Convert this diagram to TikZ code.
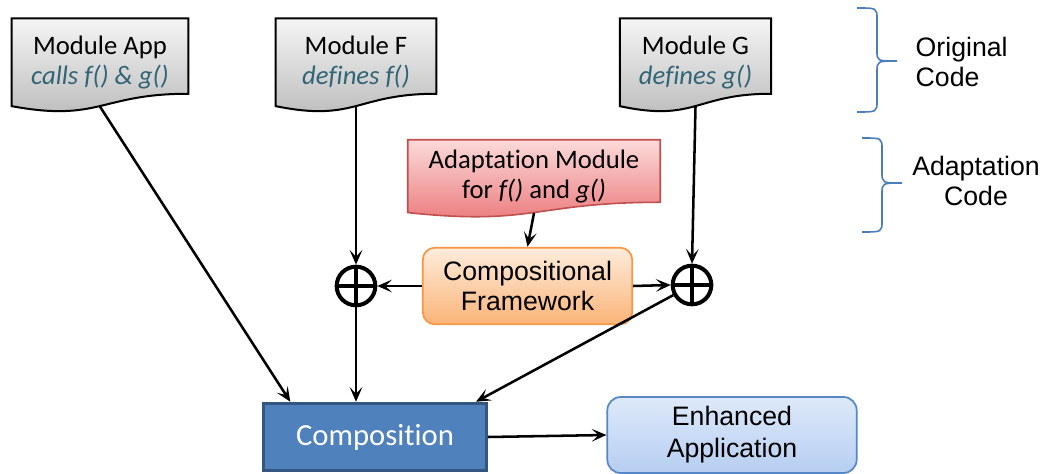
\documentclass[tikz,border=0pt]{standalone}
\usepackage{fontspec}
\setmainfont{Liberation Sans}
\newfontfamily\calibri[Ligatures=NoCommon]{Carlito}
\usepackage{tikz}
\usetikzlibrary{arrows.meta,positioning,calc,backgrounds}

\definecolor{codeteal}{RGB}{49,100,118}
\definecolor{modtop}{RGB}{245,245,245}
\definecolor{modbot}{RGB}{185,185,185}
\definecolor{adtop}{RGB}{252,218,218}
\definecolor{adbot}{RGB}{234,118,120}
\definecolor{adline}{RGB}{192,80,77}
\definecolor{cftop}{RGB}{254,236,220}
\definecolor{cfbot}{RGB}{250,180,120}
\definecolor{cfline}{RGB}{247,150,70}
\definecolor{compfill}{RGB}{79,129,189}
\definecolor{compline}{RGB}{52,86,128}
\definecolor{enhtop}{RGB}{222,233,250}
\definecolor{enhbot}{RGB}{182,206,242}
\definecolor{enhline}{RGB}{84,134,200}
\definecolor{bracecol}{RGB}{74,126,187}

% outline of a document shape (wavy bottom) round node #1, full height #3 (px)
\newcommand{\docoutline}[3]{%
  \path[#2] (#1.north west) -- (#1.north east)
    -- ($(#1.north east)+(0,0.802*#3)$)
    .. controls ($(#1.north)+(0,0.802*#3)$) and ($(#1.north)+(0,1.107*#3)$)
    .. ($(#1.north west)+(0,0.934*#3)$) -- cycle;}

\tikzset{
  link/.style={line width=1.9pt, -{Stealth[length=11pt,width=9.5pt,inset=5pt]}},
  modtext/.style={inner sep=0pt, align=center, font=\calibri\fontsize{20}{22.5}\selectfont},
  plus/.style={circle, draw, line width=3pt, minimum size=29pt, inner sep=0pt,
    path picture={\draw[line width=3pt]
      (path picture bounding box.north) -- (path picture bounding box.south)
      (path picture bounding box.west) -- (path picture bounding box.east);}},
  bigtext/.style={align=center, font=\fontsize{20}{22.5}\selectfont},
  bracepath/.style={draw=bracecol, line width=1.2pt},
}

\begin{document}
\begin{tikzpicture}[x=0.75pt, y=-0.75pt]
  \useasboundingbox (0,0) rectangle (1041,474);
  % Original code modules
  \node[modtext, minimum width=132pt, minimum height=65.8pt] (app) at (100,62.5)
    {Module App\\\textcolor{codeteal}{\itshape calls f() \& g()}};
  \node[modtext, minimum width=120pt, minimum height=65.8pt] (modf) at (356,62.5)
    {Module F\\\textcolor{codeteal}{\itshape defines f()}};
  \node[modtext, minimum width=113pt, minimum height=65.8pt] (modg) at (695.5,62.5)
    {Module G\\\textcolor{codeteal}{\itshape defines g()}};
  % Adaptation module
  \node[modtext, minimum width=189pt, minimum height=54.6pt] (adapt) at (534,176.4)
    {Adaptation Module\\for \textit{f()} and \textit{g()}};
  \begin{scope}[on background layer]
    \docoutline{app}{draw, line width=1.5pt, top color=modtop, bottom color=modbot}{94}
    \docoutline{modf}{draw, line width=1.5pt, top color=modtop, bottom color=modbot}{94}
    \docoutline{modg}{draw, line width=1.5pt, top color=modtop, bottom color=modbot}{94}
    \docoutline{adapt}{draw=adline, line width=1.2pt, top color=adtop, bottom color=adbot}{78}
  \end{scope}
  % Framework and weaving points
  \node[bigtext, draw=cfline, line width=1.3pt, rounded corners=9pt,
    top color=cftop, bottom color=cfbot, minimum width=157pt, minimum height=57.5pt]
    (frame) at (527.5,286) {Compositional\\Framework};
  \node[plus] (plusl) at (356,286) {};
  \node[plus] (plusr) at (692,285) {};
  % Result
  \node[draw=compline, line width=2.4pt, fill=compfill, text=white,
    font=\calibri\fontsize{23}{26}\selectfont, minimum width=167pt, minimum height=50.5pt]
    (compo) at (375,437) {Composition};
  \node[bigtext, draw=enhline, line width=1.3pt, rounded corners=10pt,
    top color=enhtop, bottom color=enhbot, minimum width=187pt, minimum height=57pt,
    font=\fontsize{20}{24}\selectfont]
    (enh) at (732,435) {Enhanced\\Application};
  % Connectors
  \draw[link] (adapt.south) -- (frame.north);
  \draw[link] (frame.west) -- (plusl.east);
  \draw[link] (frame.east) -- (plusr.west);
  \draw[link] (modf.south) -- (plusl.north);
  \draw[link] (modg.south) -- (plusr.north);
  \draw[link] (app.south) -- ($(compo.north west)!0.125!(compo.north east)$);
  \draw[link] (plusl.south) -- (plusl.south |- compo.north);
  \draw[link] (plusr) -- ($(compo.north west)!0.947!(compo.north east)$);
  \draw[link] (compo.east) -- (enh.west);
  % Braces and their labels
  \path[bracepath] (857,8) .. controls (877,8) .. (877,19) -- (877,51)
    .. controls (877,61) .. (897,61) .. controls (877,61) .. (877,72)
    -- (877,101) .. controls (877,112) .. (857,112);
  \path[bracepath] (862,138) .. controls (882,138) .. (882,149) -- (882,172)
    .. controls (882,183) .. (902,183) .. controls (882,183) .. (882,194)
    -- (882,221) .. controls (882,232) .. (862,232);
  \node[bigtext, align=left, anchor=west] (orig) at (911,62) {Original\\Code};
  \node[bigtext] (adcode) at (976,181) {Adaptation\\Code};
\end{tikzpicture}
\end{document}
